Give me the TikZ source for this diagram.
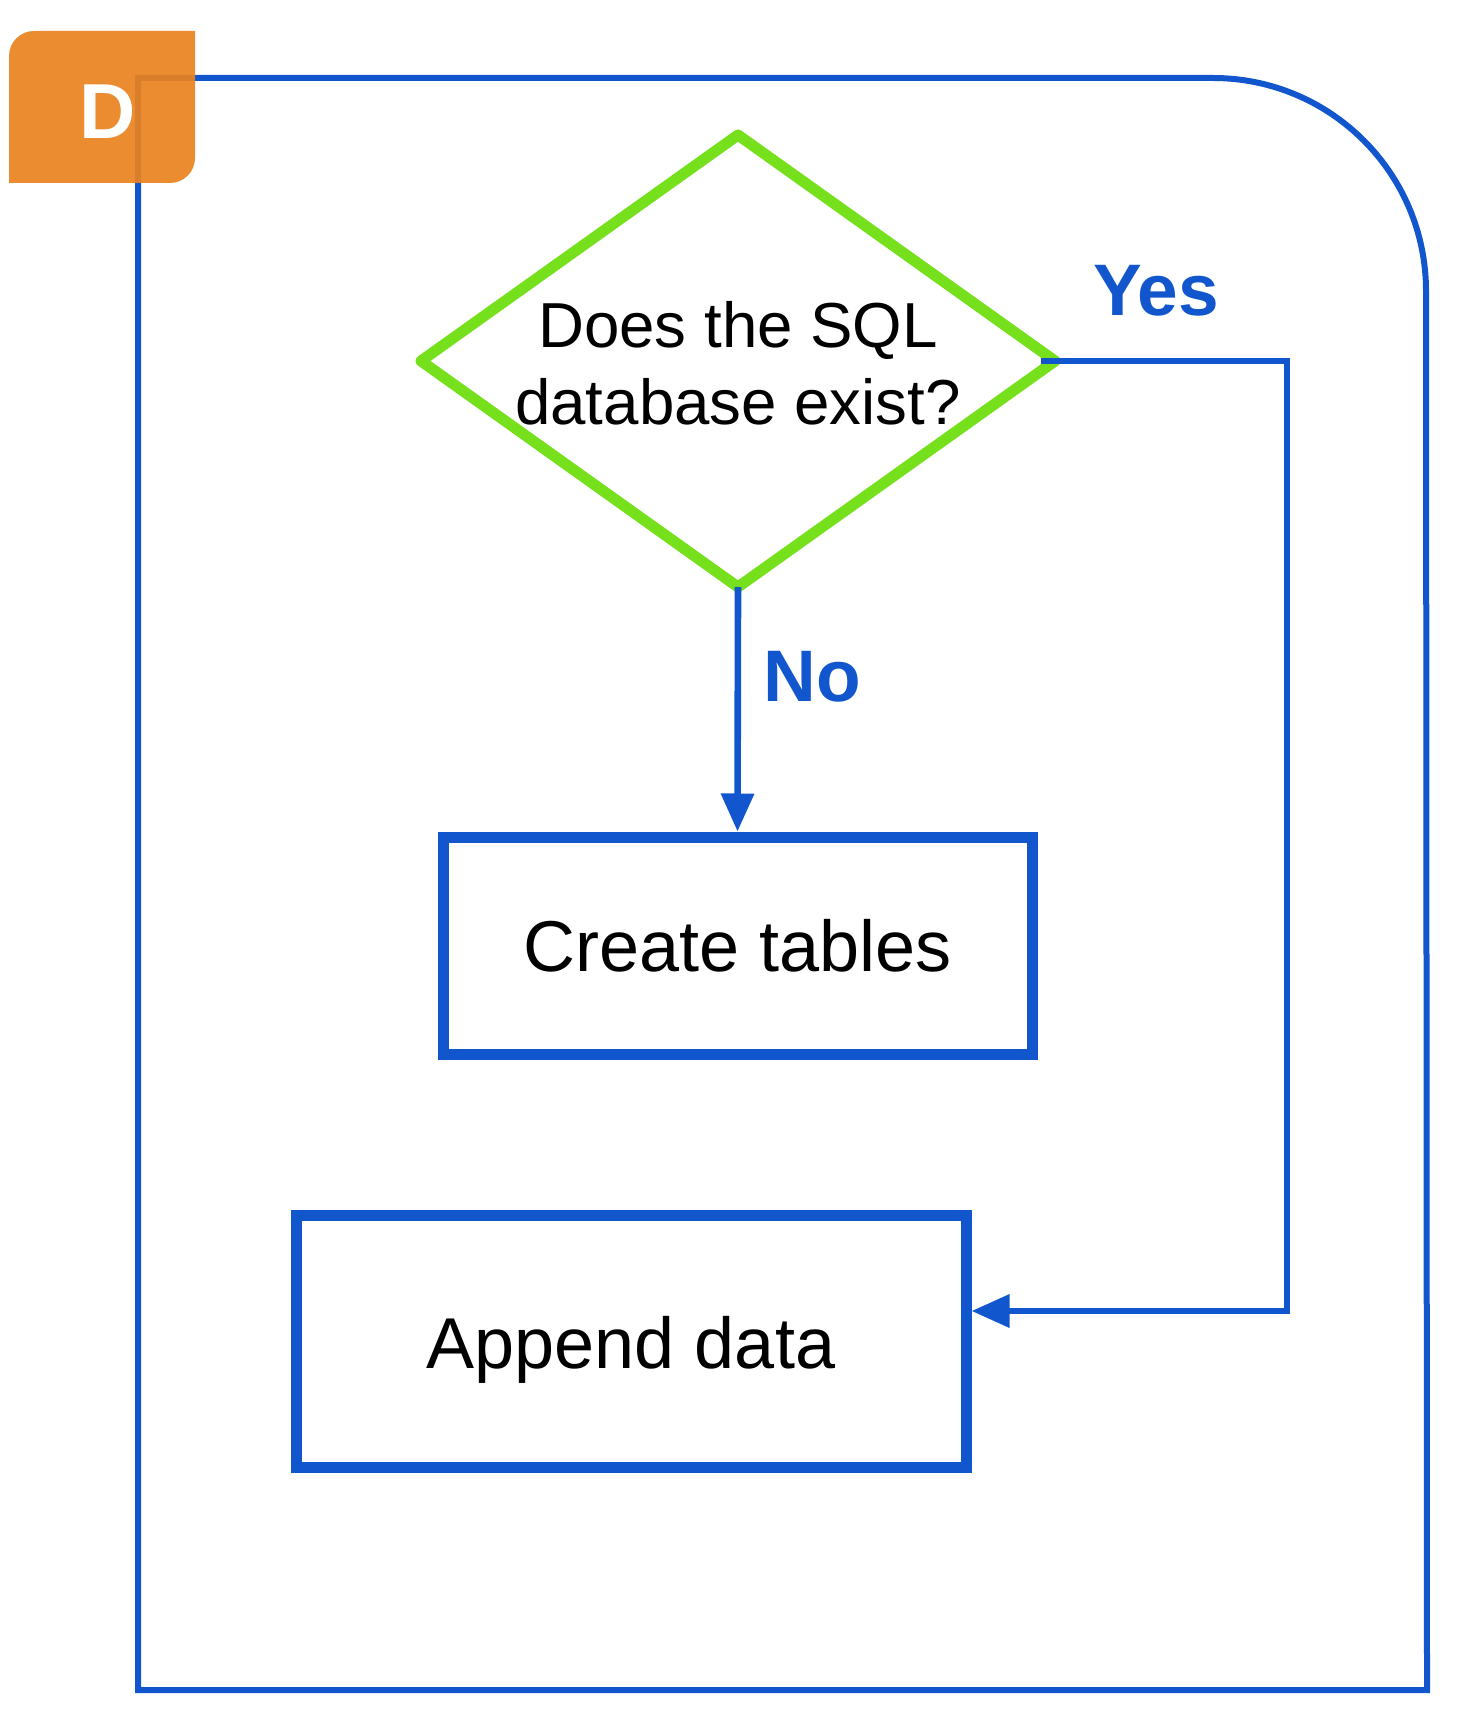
\documentclass[tikz,border=0pt]{standalone}
\usepackage{fontspec}
\setmainfont{Liberation Sans}
\usepackage{tikz}
\usetikzlibrary{
arrows.meta,
shapes.geometric
}
\definecolor{flowblue}{HTML}{1256CE}
\definecolor{askgreen}{HTML}{76E01C}
\definecolor{tagorange}{HTML}{E98320}
\begin{document}
\begin{tikzpicture}[
        x = 0.5pt,
        y = -0.5pt,
        frame/.style={
          draw = flowblue,
          line width = 3pt,
        },
        question/.style={
          diamond,
          draw = askgreen,
          line width = 5.5pt,
          line join = round,
          minimum width = 317pt,
          minimum height = 226pt,
          inner sep = 0pt,
          outer sep = 0pt,
        },
        question text/.style={
          align = center,
          font = \fontsize{31.8}{38.5}\selectfont,
        },
        task/.style={
          rectangle,
          draw = flowblue,
          line width = 5.5pt,
          inner sep = 0pt,
          font = \fontsize{36}{43}\selectfont,
        },
        flow/.style={
          draw = flowblue,
          line width = 3.3pt,
          -{Triangle[length=19pt,width=16pt]},
        },
        answer/.style={
          text = flowblue,
          font = \fontsize{36.5}{43}\selectfont\bfseries,
        },
        ]
        \useasboundingbox (0,0) rectangle (1456,1716);
        \draw [frame]
        (138,1690) -- (138,78) -- (1213,78)
        arc [start angle=-90, end angle=0, radius=213]
        -- (1427,1690) -- cycle;
        \node [question, name=node-ask] at (738,361) {};
        \node [question text, name=node-ask-text] at (738,363)
        {Does the SQL\\database exist?};
        \node [task, minimum width=294.5pt, minimum height=108.5pt,
          name=node-create] at (737.5,945.5) {Create tables};
        \node [task, minimum width=335pt, minimum height=126pt,
          text height=35.5pt, text depth=7.6pt,
          name=node-append] at (631,1341) {Append data};
        \draw [flow] (node-ask.south) -- (node-create.north);
        \node [answer, name=node-no] at (812,677) {No};
        \coordinate (yes-bend) at (1287,1311);
        \draw [flow]
        ([xshift=-7pt]node-ask.east) -| (yes-bend) -- (yes-bend -| node-append.east);
        \node [answer, name=node-yes] at (1156,291) {Yes};
        \fill [tagorange, fill opacity=0.93]
        (9,183) -- (9,56)
        arc [start angle=180, end angle=270, radius=25]
        -- (195,31) -- (195,158)
        arc [start angle=0, end angle=90, radius=25]
        -- cycle;
        \node [text=white, font=\fontsize{39}{46}\selectfont\bfseries,
          name=node-tag] at (108,112) {D};
      \end{tikzpicture}
\end{document}
